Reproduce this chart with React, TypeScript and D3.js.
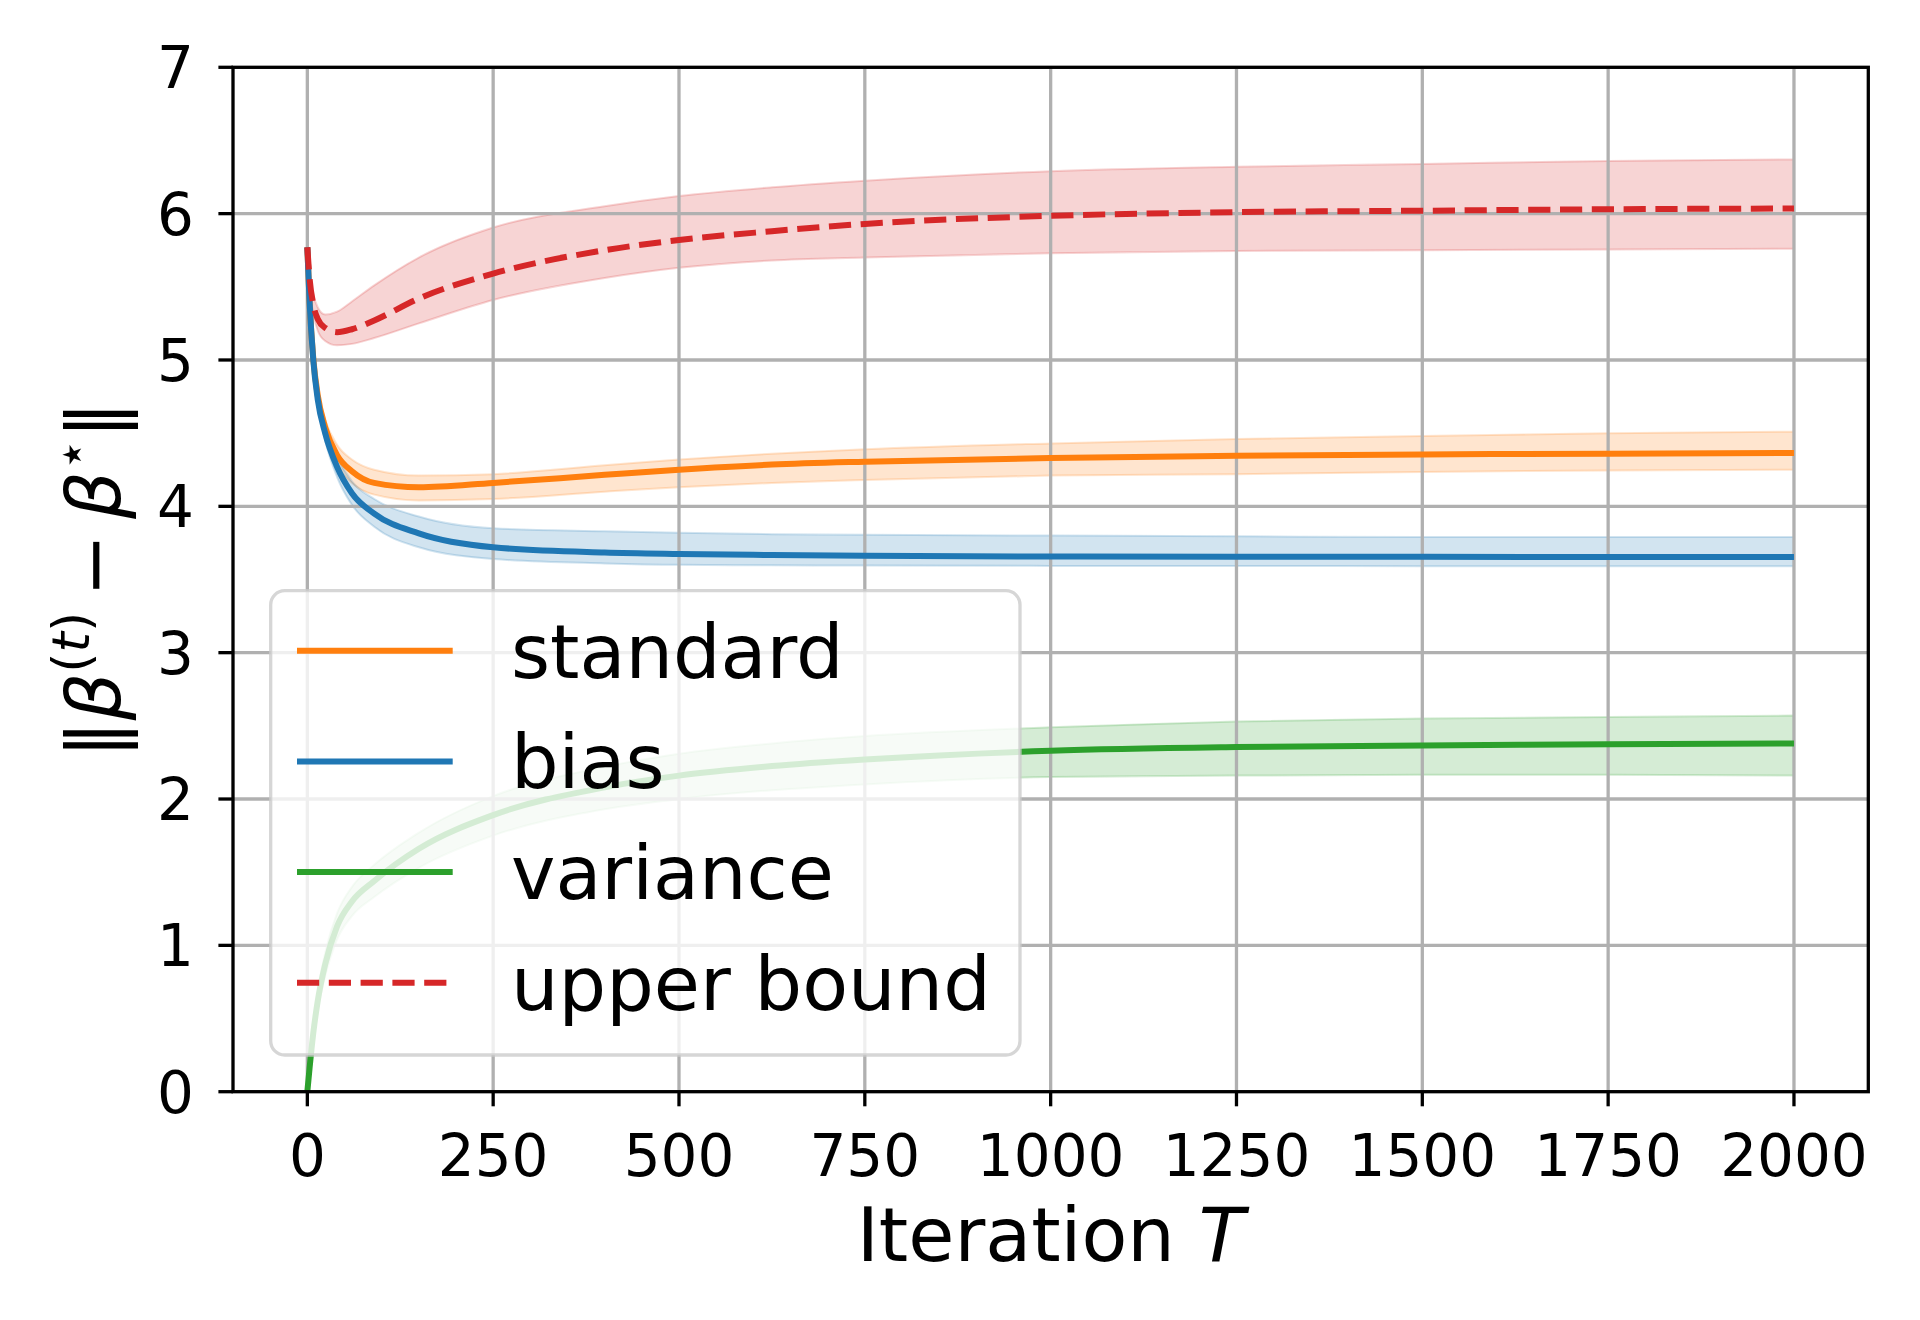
import React, { useRef, useEffect } from 'react';
import * as d3 from 'd3';

// iteration grid shared by every series
const iters = [0, 3, 8, 14, 24, 40, 60, 90, 150, 250, 400, 500, 625, 750, 1000, 1250, 1500, 1750, 2000];

const standardMean = [5.77, 5.40, 5.01, 4.76, 4.54, 4.35, 4.24, 4.16, 4.13, 4.16, 4.215, 4.25, 4.285, 4.305, 4.33, 4.345, 4.355, 4.36, 4.365];
const standardHi = [5.77, 5.41, 5.03, 4.79, 4.59, 4.42, 4.32, 4.25, 4.21, 4.22, 4.28, 4.32, 4.36, 4.39, 4.43, 4.46, 4.48, 4.50, 4.51];
const standardLo = [5.77, 5.39, 4.99, 4.73, 4.49, 4.28, 4.16, 4.08, 4.04, 4.05, 4.10, 4.13, 4.16, 4.18, 4.21, 4.22, 4.235, 4.245, 4.25];

const biasMean = [5.77, 5.40, 5.00, 4.73, 4.50, 4.27, 4.09, 3.95, 3.815, 3.72, 3.685, 3.675, 3.667, 3.662, 3.657, 3.655, 3.655, 3.654, 3.654];
const biasHi = [5.77, 5.41, 5.02, 4.76, 4.55, 4.34, 4.17, 4.05, 3.93, 3.85, 3.83, 3.82, 3.81, 3.805, 3.80, 3.795, 3.79, 3.79, 3.79];
const biasLo = [5.77, 5.39, 4.98, 4.70, 4.45, 4.20, 4.01, 3.86, 3.72, 3.64, 3.61, 3.60, 3.597, 3.595, 3.593, 3.592, 3.591, 3.59, 3.59];

const varianceMean = [0, 0.16, 0.40, 0.62, 0.87, 1.13, 1.30, 1.44, 1.66, 1.89, 2.08, 2.16, 2.225, 2.27, 2.33, 2.355, 2.365, 2.375, 2.38];
const varianceHi = [0, 0.18, 0.44, 0.68, 0.95, 1.22, 1.40, 1.55, 1.77, 2.02, 2.22, 2.31, 2.38, 2.43, 2.49, 2.53, 2.55, 2.56, 2.57];
const varianceLo = [0, 0.14, 0.36, 0.56, 0.79, 1.04, 1.20, 1.33, 1.53, 1.75, 1.93, 2.00, 2.06, 2.10, 2.15, 2.16, 2.165, 2.165, 2.16];

const boundMean = [5.77, 5.56, 5.38, 5.28, 5.22, 5.19, 5.21, 5.27, 5.42, 5.59, 5.75, 5.82, 5.88, 5.93, 5.985, 6.01, 6.02, 6.03, 6.035];
const boundHi = [5.77, 5.60, 5.45, 5.36, 5.31, 5.33, 5.40, 5.51, 5.70, 5.905, 6.05, 6.12, 6.18, 6.225, 6.29, 6.32, 6.34, 6.36, 6.37];
const boundLo = [5.77, 5.50, 5.32, 5.20, 5.13, 5.10, 5.11, 5.15, 5.25, 5.41, 5.56, 5.63, 5.68, 5.70, 5.73, 5.745, 5.75, 5.755, 5.76];

const xTicks = [0, 250, 500, 750, 1000, 1250, 1500, 1750, 2000];
const yTicks = [0, 1, 2, 3, 4, 5, 6, 7];

const series = [
  { name: 'standard', color: '#ff7f0e', mean: standardMean, hi: standardHi, lo: standardLo, dashed: false },
  { name: 'bias', color: '#1f77b4', mean: biasMean, hi: biasHi, lo: biasLo, dashed: false },
  { name: 'variance', color: '#2ca02c', mean: varianceMean, hi: varianceHi, lo: varianceLo, dashed: false },
  { name: 'upper bound', color: '#d62728', mean: boundMean, hi: boundHi, lo: boundLo, dashed: true },
];

const W = 1920;
const H = 1320;
const FONT = 'DejaVu Sans, sans-serif';

export default function App() {
  const svgRef = useRef<SVGSVGElement | null>(null);

  useEffect(() => {
    const svg = d3.select(svgRef.current);
    svg.selectAll('*').remove();

    const left = 233, right = 1868.3, top = 67.3, bottom = 1091.7;
    const x = d3.scaleLinear().domain([-100, 2100]).range([left, right]);
    const y = d3.scaleLinear().domain([0, 7]).range([bottom, top]);

    svg.append('rect').attr('width', W).attr('height', H).attr('fill', '#fff');

    const defs = svg.append('defs');
    defs.append('clipPath').attr('id', 'plot-clip')
      .append('rect').attr('x', left).attr('y', top).attr('width', right - left).attr('height', bottom - top);

    const plot = svg.append('g').attr('clip-path', 'url(#plot-clip)');

    // bands first (patches sit under the grid)
    series.forEach(s => {
      const area = d3.area<number>()
        .x((_, i) => x(iters[i]))
        .y0((_, i) => y(s.lo[i]))
        .y1((_, i) => y(s.hi[i]))
        .curve(d3.curveMonotoneX);
      plot.append('path')
        .attr('d', area(s.mean))
        .attr('fill', s.color)
        .attr('fill-opacity', 0.2)
        .attr('stroke', s.color)
        .attr('stroke-opacity', 0.2)
        .attr('stroke-width', 2);
    });

    // grid
    const grid = plot.append('g').attr('stroke', '#b0b0b0').attr('stroke-width', 3.3);
    xTicks.forEach(t => {
      grid.append('line').attr('x1', x(t)).attr('x2', x(t)).attr('y1', top).attr('y2', bottom);
    });
    yTicks.forEach(t => {
      grid.append('line').attr('x1', left).attr('x2', right).attr('y1', y(t)).attr('y2', y(t));
    });

    // lines
    series.forEach(s => {
      const line = d3.line<number>()
        .x((_, i) => x(iters[i]))
        .y(d => y(d))
        .curve(d3.curveMonotoneX);
      plot.append('path')
        .attr('d', line(s.mean))
        .attr('fill', 'none')
        .attr('stroke', s.color)
        .attr('stroke-width', 6)
        .attr('stroke-dasharray', s.dashed ? '22.2 9.6' : null);
    });

    // spines
    svg.append('rect')
      .attr('x', left).attr('y', top).attr('width', right - left).attr('height', bottom - top)
      .attr('fill', 'none').attr('stroke', '#000').attr('stroke-width', 3.3)
      .attr('stroke-linejoin', 'miter').attr('stroke-linecap', 'square');

    // ticks and labels
    const ax = svg.append('g').attr('font-family', FONT).attr('font-size', 58).attr('fill', '#000');
    xTicks.forEach(t => {
      ax.append('line').attr('x1', x(t)).attr('x2', x(t)).attr('y1', bottom).attr('y2', bottom + 14.6)
        .attr('stroke', '#000').attr('stroke-width', 3.3);
      ax.append('text').attr('x', x(t)).attr('y', 1176).attr('text-anchor', 'middle').text(t);
    });
    yTicks.forEach(t => {
      ax.append('line').attr('x1', left - 14.6).attr('x2', left).attr('y1', y(t)).attr('y2', y(t))
        .attr('stroke', '#000').attr('stroke-width', 3.3);
      ax.append('text').attr('x', 194).attr('y', y(t) + 21).attr('text-anchor', 'end').text(t);
    });

    // axis labels
    const xl = svg.append('text').attr('x', (left + right) / 2).attr('y', 1261)
      .attr('text-anchor', 'middle').attr('font-family', FONT).attr('font-size', 75);
    xl.append('tspan').text('Iteration ');
    xl.append('tspan').attr('font-style', 'italic').text('T');

    const yl = svg.append('text')
      .attr('transform', `translate(120, ${(top + bottom) / 2}) rotate(-90)`)
      .attr('text-anchor', 'middle').attr('font-family', FONT).attr('font-size', 75);
    yl.append('tspan').text('\u2016');
    yl.append('tspan').attr('font-style', 'italic').text('\u03b2');
    yl.append('tspan').attr('font-size', 52).attr('dy', -31).text('(');
    yl.append('tspan').attr('font-size', 52).attr('font-style', 'italic').text('t');
    yl.append('tspan').attr('font-size', 52).text(')');
    yl.append('tspan').attr('dy', 31).text('\u2009\u2212\u2009');
    yl.append('tspan').attr('font-style', 'italic').text('\u03b2');
    yl.append('tspan').attr('font-size', 52).attr('dy', -31).text('\u22c6');
    yl.append('tspan').attr('dy', 31).text('\u2016');

    // legend
    const lg = svg.append('g');
    lg.append('rect')
      .attr('x', 270.7).attr('y', 590.7).attr('width', 1020 - 270.7).attr('height', 1055 - 590.7)
      .attr('rx', 14).attr('ry', 14)
      .attr('fill', '#fff').attr('fill-opacity', 0.8)
      .attr('stroke', '#cccccc').attr('stroke-opacity', 0.8).attr('stroke-width', 3.3);
    series.forEach((s, i) => {
      const cy = 650.7 + i * 110.7;
      lg.append('line').attr('x1', 297).attr('x2', 452.7).attr('y1', cy).attr('y2', cy)
        .attr('stroke', s.color).attr('stroke-width', 6)
        .attr('stroke-dasharray', s.dashed ? '22.2 9.6' : null);
      lg.append('text').attr('x', 511).attr('y', cy + 27)
        .attr('font-family', FONT).attr('font-size', 75).text(s.name);
    });
  }, []);

  return (
    <svg ref={svgRef} width={W} height={H}
      style={{ position: 'absolute', left: 0, top: 0, display: 'block' }} />
  );
}
